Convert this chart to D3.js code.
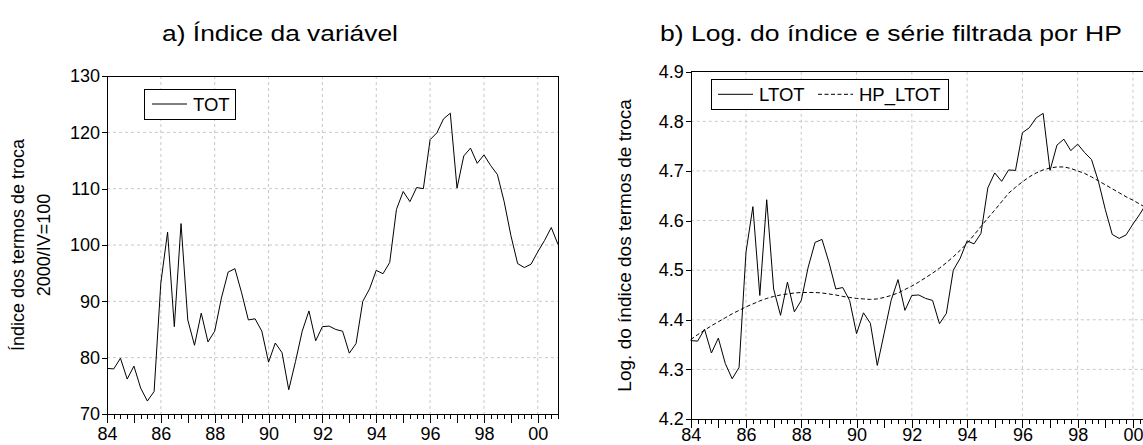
<!DOCTYPE html>
<html>
<head>
<meta charset="utf-8">
<script src="https://cdn.jsdelivr.net/npm/d3@7"></script>
<style>
  body { margin: 0; background: #fff; }
  svg { display: block; font-family: "Liberation Sans", Arial, sans-serif; }
  .grid line { stroke: #c8c8c8; stroke-width: 1; stroke-dasharray: 3,3; }
  .axis path, .axis line { stroke: #000; stroke-width: 1; shape-rendering: crispEdges; }
  .axis text { font-size: 18px; fill: #000; }
  .frame { stroke: #000; stroke-width: 1; shape-rendering: crispEdges; }
  .series { fill: none; stroke: #000; stroke-width: 1; }
  .hp { stroke-dasharray: 4,2.5; }
  .legend rect { fill: #fff; stroke: #000; stroke-width: 1; shape-rendering: crispEdges; }
  .legend text { font-size: 18.5px; }
</style>
</head>
<body>
<div id="chart"></div>
<script>
// quarterly series, 1984Q1 .. 2000Q4 (68 quarters)
var tot = [
  78.1, 78.0, 79.9, 76.2, 78.5, 74.6, 72.3, 74.0,
  93.3, 102.3, 85.5, 103.8, 86.7, 82.2, 87.9, 82.8,
  84.7, 90.6, 95.2, 95.8, 91.5, 86.7, 86.9, 84.7,
  79.2, 82.6, 80.9, 74.3, 79.3, 84.7, 88.3, 83.0,
  85.5, 85.6, 85.0, 84.7, 80.8, 82.5, 90.0, 92.2,
  95.5, 94.9, 96.9, 106.3, 109.5, 107.7, 110.2, 110.0,
  118.7, 119.9, 122.4, 123.4, 110.1, 115.8, 117.2, 114.5,
  116.0, 114.1, 112.5, 107.7, 101.7, 96.7, 96.0, 96.6,
  98.8, 100.8, 103.1, 100.1
];
var ltot = [
  4.358, 4.357, 4.381, 4.333, 4.363, 4.312, 4.281, 4.304,
  4.536, 4.628, 4.449, 4.642, 4.462, 4.409, 4.476, 4.416,
  4.439, 4.506, 4.556, 4.562, 4.516, 4.462, 4.465, 4.439,
  4.372, 4.414, 4.393, 4.308, 4.373, 4.439, 4.481, 4.419,
  4.449, 4.450, 4.443, 4.439, 4.392, 4.413, 4.500, 4.524,
  4.559, 4.553, 4.574, 4.666, 4.696, 4.679, 4.702, 4.701,
  4.777, 4.787, 4.807, 4.816, 4.701, 4.752, 4.764, 4.741,
  4.754, 4.737, 4.723, 4.679, 4.622, 4.572, 4.564, 4.571,
  4.593, 4.613, 4.636, 4.606
];
var hpLtot = [
  4.360, 4.370, 4.379, 4.388, 4.396, 4.404, 4.412, 4.419,
  4.426, 4.432, 4.438, 4.443, 4.447, 4.450, 4.452, 4.454,
  4.455, 4.455, 4.455, 4.454, 4.452, 4.450, 4.447, 4.445,
  4.443, 4.442, 4.441, 4.442, 4.445, 4.449, 4.454, 4.461,
  4.468, 4.476, 4.485, 4.494, 4.504, 4.515, 4.527, 4.540,
  4.554, 4.571, 4.588, 4.605, 4.621, 4.638, 4.655, 4.667,
  4.678, 4.688, 4.696, 4.702, 4.706, 4.708, 4.708, 4.705,
  4.700, 4.695, 4.688, 4.680, 4.672, 4.664, 4.656, 4.648,
  4.641, 4.633, 4.625, 4.617
];
var yearLabels = ["84", "86", "88", "90", "92", "94", "96", "98", "00"];
var ticksA = [70, 80, 90, 100, 110, 120, 130];
var ticksB = [4.2, 4.3, 4.4, 4.5, 4.6, 4.7, 4.8, 4.9];

var W = 1143, H = 445;

var svg = d3.select("#chart")
  .append("svg")
  .attr("width", W)
  .attr("height", H);

function drawPanel(p) {
  var g = svg.append("g");

  //scale functions
  var xScale = d3.scaleLinear()
    .domain([0, tot.length - 1])
    .range([p.left, p.right]);
  var yScale = d3.scaleLinear()
    .domain([p.ticks[0], p.ticks[p.ticks.length - 1]])
    .range([p.bottom, p.top]);

  // dashed grid
  var grid = g.append("g").attr("class", "grid");
  grid.selectAll(".gy")
    .data(p.ticks.slice(1, -1))
    .enter().append("line")
    .attr("x1", p.left).attr("x2", p.right)
    .attr("y1", function(d) { return yScale(d); })
    .attr("y2", function(d) { return yScale(d); });
  grid.selectAll(".gx")
    .data(d3.range(8, tot.length, 8))
    .enter().append("line")
    .attr("x1", function(d) { return xScale(d); })
    .attr("x2", function(d) { return xScale(d); })
    .attr("y1", p.top).attr("y2", p.bottom);

  // series lines
  p.series.forEach(function(s) {
    var line = d3.line()
      .x(function(d, i) { return xScale(i); })
      .y(function(d) { return yScale(d); });
    g.append("path")
      .datum(s.values)
      .attr("class", "series" + (s.dashed ? " hp" : ""))
      .attr("d", line);
  });

  // top and right border
  g.append("line").attr("class", "frame")
    .attr("x1", p.left).attr("x2", p.right)
    .attr("y1", p.top).attr("y2", p.top);
  g.append("line").attr("class", "frame")
    .attr("x1", p.right).attr("x2", p.right)
    .attr("y1", p.top).attr("y2", p.bottom);

  // y axis
  g.append("g")
    .attr("class", "axis")
    .attr("transform", "translate(" + p.left + ",0)")
    .call(d3.axisLeft(yScale).tickValues(p.ticks).tickSize(5).tickSizeOuter(0)
      .tickPadding(2).tickFormat(p.fmt));

  // x axis: quarters (short) and years (long)
  g.append("g")
    .attr("class", "axis")
    .attr("transform", "translate(0," + p.bottom + ")")
    .call(d3.axisBottom(xScale).tickValues(d3.range(0, tot.length)).tickSize(5)
      .tickSizeOuter(0).tickFormat(""));
  g.append("g")
    .attr("class", "axis")
    .attr("transform", "translate(0," + p.bottom + ")")
    .call(d3.axisBottom(xScale).tickValues(d3.range(0, tot.length, 4)).tickSize(9)
      .tickSizeOuter(0).tickPadding(p.xPad)
      .tickFormat(function(d) { return d % 8 == 0 ? yearLabels[d / 8] : ""; }));

  // title, stretched a little to the reference width
  var title = svg.append("text")
    .attr("text-anchor", "middle")
    .attr("font-size", 22)
    .text(p.title);
  var tw = title.node().getComputedTextLength();
  title.attr("transform", "translate(" + p.titleX + ",41) scale(" + (p.titleW / tw) + ",1)");

  // y axis label
  p.ylabel.forEach(function(t) {
    svg.append("text")
      .attr("transform", "translate(" + t.x + "," + ((p.top + p.bottom) / 2) + ") rotate(-90)")
      .attr("text-anchor", "middle")
      .attr("font-size", t.size)
      .text(t.text);
  });

  // legend
  var lg = g.append("g").attr("class", "legend");
  lg.append("rect")
    .attr("x", p.legend.x).attr("y", p.legend.y)
    .attr("width", p.legend.w).attr("height", p.legend.h);
  p.legend.items.forEach(function(it, k) {
    var ly = p.legend.y + p.legend.h / 2;
    lg.append("line")
      .attr("class", "series" + (p.series[k].dashed ? " hp" : ""))
      .attr("x1", it.x).attr("x2", it.x + 35)
      .attr("y1", ly).attr("y2", ly);
    lg.append("text")
      .attr("x", it.x + 41)
      .attr("y", ly + 7)
      .text(p.series[k].name);
  });
}

drawPanel({
  left: 107, right: 558, top: 76, bottom: 414,
  ticks: ticksA,
  fmt: d3.format("d"),
  xPad: 4,
  series: [{ name: "TOT", values: tot }],
  title: "a) Índice da variável", titleX: 280, titleW: 236,
  ylabel: [
    { text: "Índice dos termos de troca", x: 24, size: 18 },
    { text: "2000/IV=100", x: 50, size: 18 }
  ],
  legend: { x: 144, y: 89, w: 91, h: 30, items: [{ x: 152 }] }
});

drawPanel({
  left: 690.7, right: 1153.7, top: 71.7, bottom: 419,
  ticks: ticksB,
  fmt: d3.format(".1f"),
  xPad: 0,
  series: [
    { name: "LTOT", values: ltot },
    { name: "HP_LTOT", values: hpLtot, dashed: true }
  ],
  title: "b) Log. do índice e série filtrada por HP", titleX: 891, titleW: 462,
  ylabel: [
    { text: "Log. do índice dos termos de troca", x: 631, size: 19 }
  ],
  legend: { x: 711, y: 79.3, w: 237, h: 30, items: [{ x: 718 }, { x: 818 }] }
});
</script>
</body>
</html>
